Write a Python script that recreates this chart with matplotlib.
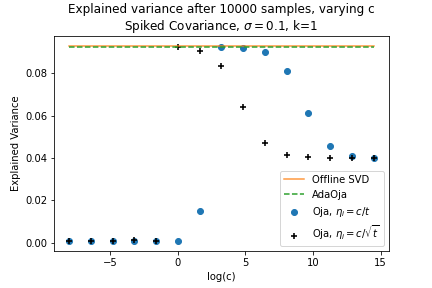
import numpy as np
import matplotlib
matplotlib.use("Agg")
import matplotlib.pyplot as plt

# log(c) with c = 5**k, k = -5..9
k_vals = np.arange(-5, 10)
log_c = k_vals * np.log(5)

offline_svd = 0.0929
adaoja = 0.0921

oja_c_t = [0.0008, 0.0008, 0.0010, 0.0008, 0.0008, 0.0007, 0.0152, 0.0925,
           0.0920, 0.0899, 0.0810, 0.0610, 0.0455, 0.0410, 0.0400]
oja_c_sqrt_t = [0.0008, 0.0008, 0.0010, 0.0012, 0.0008, 0.0925, 0.0905, 0.0835,
                0.0640, 0.0470, 0.0415, 0.0405, 0.0400, 0.0400, 0.0400]

fig = plt.figure(figsize=(6, 4), dpi=72)
ax = fig.add_subplot(111)
ax.plot(log_c, [offline_svd] * len(log_c), color='C1', alpha=0.8, label='Offline SVD')
ax.plot(log_c, [adaoja] * len(log_c), color='C2', linestyle='--', label='AdaOja')
ax.scatter(log_c, oja_c_t, color='C0', label=r'Oja, $\eta_i = c/t$')
ax.scatter(log_c, oja_c_sqrt_t, color='k', marker='+', s=45, linewidths=1.6,
           label=r'Oja, $\eta_i = c/\sqrt{t}$')
ax.set_xlabel('log(c)')
ax.set_ylabel('Explained Variance')
ax.set_title('Explained variance after 10000 samples, varying c\n'
             r'Spiked Covariance, $\sigma = 0.1$, k=1')
ax.legend(loc='lower right')
fig.subplots_adjust(left=0.125, right=0.9, top=0.875, bottom=0.128)
fig.savefig('out.png', dpi=72)
